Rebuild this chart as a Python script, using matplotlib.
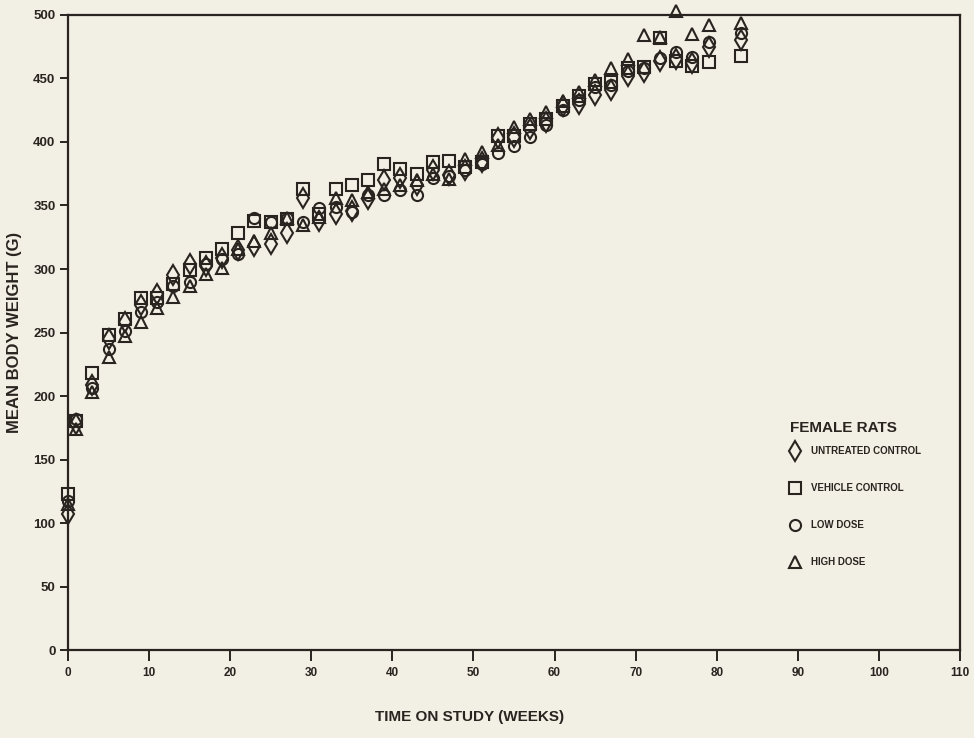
import numpy as np
import matplotlib.pyplot as plt

plt.rcParams['font.family'] = ['Liberation Sans', 'DejaVu Sans']
plt.rcParams['font.weight'] = 'bold'

weeks = [0, 1, 3, 5, 7, 9, 11, 13, 15, 17, 19, 21, 23, 25, 27, 29, 31, 33, 35, 37,
         39, 41, 43, 45, 47, 49, 51, 53, 55, 57, 59, 61, 63, 65, 67, 69, 71, 73,
         75, 77, 79, 83]

untreated = [107, 178, 209, 245, 258, 272, 280, 295, 304, 302, 309, 315, 318, 320,
             328, 356, 338, 343, 346, 355, 370, 372, 366, 378, 374, 378, 384, 403,
             404, 410, 416, 428, 430, 437, 441, 452, 455, 464, 465, 462, 475, 480]
vehicle = [123, 180, 218, 248, 261, 277, 277, 288, 299, 309, 316, 328, 338, 337,
           339, 363, 343, 363, 366, 370, 383, 379, 375, 384, 385, 380, 384, 405,
           405, 414, 418, 428, 436, 446, 447, 458, 459, 482, 464, 460, 463, 468]
low_dose = [117, 182, 206, 237, 251, 266, 274, 287, 290, 304, 308, 312, 340, 337,
            340, 337, 348, 349, 345, 358, 358, 362, 358, 372, 373, 378, 383, 391,
            397, 404, 413, 425, 433, 443, 445, 456, 458, 466, 471, 467, 479, 486]
high_dose = [115, 174, 203, 231, 247, 258, 269, 278, 287, 296, 301, 316, 322, 328,
             340, 335, 341, 356, 354, 361, 363, 366, 370, 375, 371, 387, 392, 398,
             412, 418, 424, 432, 439, 449, 458, 465, 484, 483, 503, 485, 492, 494]

labels = ['UNTREATED CONTROL', 'VEHICLE CONTROL', 'LOW DOSE', 'HIGH DOSE']

bg = '#f2efe4'
ink = '#2a2420'

fig = plt.figure(figsize=(9.74, 7.38), dpi=100, facecolor=bg)
ax = fig.add_axes([0.0698, 0.1192, 0.9158, 0.8605], facecolor=bg)

series = [untreated, vehicle, low_dose, high_dose]
markers = ['d', 's', 'o', '^']
sizes = [10, 8, 8, 9]
for vals, m, s, lab in zip(series, markers, sizes, labels):
    ax.plot(weeks, vals, linestyle='none', marker=m, markersize=s,
            markerfacecolor='none', markeredgecolor=ink, markeredgewidth=1.5,
            label=lab, clip_on=False)

ax.set_xlim(0, 110)
ax.set_ylim(0, 500)
ax.set_xticks(np.arange(0, 111, 10))
ax.set_yticks(np.arange(0, 501, 50))
for sp in ax.spines.values():
    sp.set_color(ink)
    sp.set_linewidth(1.6)
ax.tick_params(axis='both', colors=ink, width=1.4, direction='out')
ax.tick_params(axis='x', length=8, pad=4, labelsize=8.5)
ax.tick_params(axis='y', length=6, pad=3, labelsize=9.5)

ax.set_xlabel('TIME ON STUDY (WEEKS)', fontsize=11, fontweight='bold', color=ink)
ax.xaxis.set_label_coords(0.45, -0.094)
ax.set_ylabel('MEAN BODY WEIGHT (G)', fontsize=12, fontweight='bold', color=ink, labelpad=8)

# legend block
ax.text(0.809, 0.3496, 'FEMALE RATS', transform=ax.transAxes, fontsize=11,
        fontweight='bold', color=ink, ha='left', va='center')
ax.legend(loc='upper left', bbox_to_anchor=(0.804, 0.321), frameon=False,
          borderpad=0, borderaxespad=0, labelspacing=2.78, handletextpad=0.7,
          prop={'size': 7, 'weight': 'bold'}, labelcolor=ink)

fig.savefig('out.png', dpi=100, facecolor=bg)
